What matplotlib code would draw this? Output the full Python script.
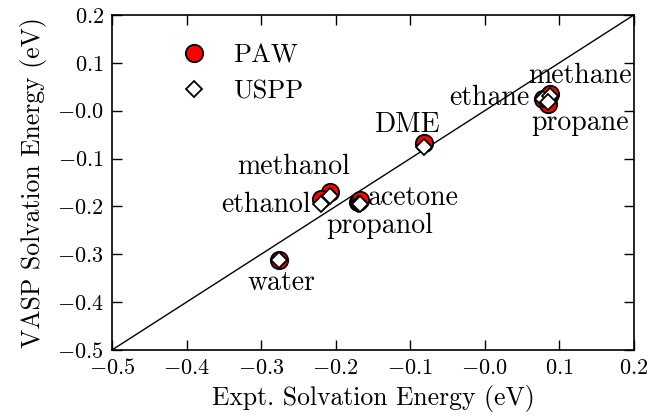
import matplotlib
matplotlib.use('Agg')
import matplotlib.pyplot as plt
import numpy as np

plt.rcParams['font.family'] = 'serif'
plt.rcParams['font.serif'] = ['cmr10', 'DejaVu Serif']
plt.rcParams['mathtext.fontset'] = 'cm'
plt.rcParams['axes.formatter.use_mathtext'] = True

# données (eV)
molecules = ['water', 'methanol', 'ethanol', 'propanol', 'acetone', 'DME', 'ethane', 'methane', 'propane']
expt = [-0.276, -0.207, -0.220, -0.170, -0.168, -0.082, 0.078, 0.087, 0.085]
paw = [-0.312, -0.170, -0.185, -0.190, -0.187, -0.068, 0.025, 0.035, 0.013]
uspp = [-0.312, -0.178, -0.195, -0.196, -0.194, -0.076, 0.025, 0.030, 0.018]

# position des étiquettes (x, y, alignement)
label_pos = {
    'water': (-0.273, -0.360, 'center'),
    'methanol': (-0.257, -0.118, 'center'),
    'ethanol': (-0.233, -0.197, 'right'),
    'propanol': (-0.141, -0.240, 'center'),
    'acetone': (-0.157, -0.183, 'left'),
    'DME': (-0.104, -0.030, 'center'),
    'ethane': (0.060, 0.027, 'right'),
    'methane': (0.128, 0.072, 'center'),
    'propane': (0.128, -0.026, 'center'),
}

fig = plt.figure(figsize=(6.52, 4.18), dpi=100)
ax = fig.add_axes([0.172, 0.163, 0.8, 0.801])

ax.plot([-0.5, 0.2], [-0.5, 0.2], 'k-', lw=1.0)
ax.plot(expt, paw, 'o', color='red', mec='black', mew=1.3, ms=12.5, label='PAW', ls='none')
ax.plot(expt, uspp, 'D', color='white', mec='black', mew=1.3, ms=8, label='USPP', ls='none')

for m in molecules:
    tx, ty, ha = label_pos[m]
    ax.text(tx, ty, m, ha=ha, va='center', fontsize=20)

ax.set_xlim(-0.5, 0.2)
ax.set_ylim(-0.5, 0.2)
ax.set_xticks(np.arange(-0.5, 0.21, 0.1))
ax.set_yticks(np.arange(-0.5, 0.21, 0.1))
ax.yaxis.set_major_formatter(matplotlib.ticker.FormatStrFormatter('$%.1f$'))
ax.xaxis.set_major_formatter(matplotlib.ticker.FormatStrFormatter('$%.1f$'))
ax.tick_params(direction='in', top=True, right=True, length=7, width=1, labelsize=16, pad=6)
for s in ax.spines.values():
    s.set_linewidth(1.2)

ax.set_xlabel('Expt. Solvation Energy (eV)', fontsize=18.5, labelpad=5)
ax.set_ylabel('VASP Solvation Energy (eV)', fontsize=18.5, labelpad=7)
ax.legend(loc='upper left', frameon=False, fontsize=19, numpoints=1,
          bbox_to_anchor=(0.06, 0.985), handletextpad=0.5, labelspacing=0.45)

fig.savefig('out.png', dpi=100)
